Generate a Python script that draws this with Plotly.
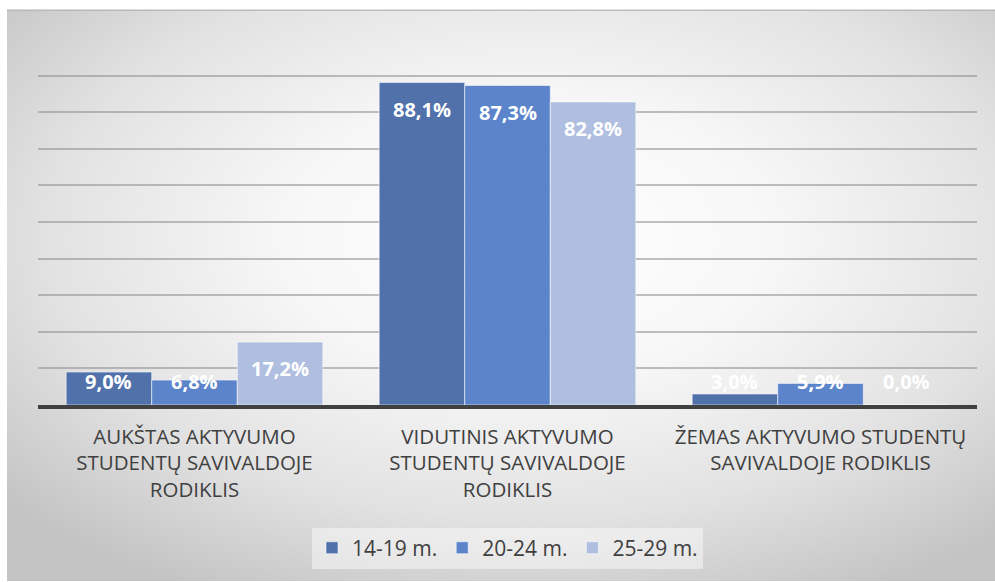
import base64
import plotly.graph_objects as go

# Activity of students in student self-government, by age group
categories = [
    "AUKŠTAS AKTYVUMO<br>STUDENTŲ SAVIVALDOJE<br>RODIKLIS",
    "VIDUTINIS AKTYVUMO<br>STUDENTŲ SAVIVALDOJE<br>RODIKLIS",
    "ŽEMAS AKTYVUMO STUDENTŲ<br>SAVIVALDOJE RODIKLIS",
]
series_names = ["14-19 m.", "20-24 m.", "25-29 m."]
values_14_19 = [9.0, 88.1, 3.0]
values_20_24 = [6.8, 87.3, 5.9]
values_25_29 = [17.2, 82.8, 0.0]
colors = ["#5071aa", "#5b84ca", "#b0bfe0"]

series_values = [values_14_19, values_20_24, values_25_29]
FONT = "Open Sans"
BARGAP = 0.18

fig = go.Figure()
for name, vals, col in zip(series_names, series_values, colors):
    fig.add_trace(go.Bar(
        name=name,
        x=list(range(len(categories))),
        y=vals,
        marker=dict(color=col, line=dict(color="rgba(255,255,255,0.55)", width=1)),
        hoverinfo="skip",
    ))

# Data labels just inside the top of each bar (kept above the baseline for short bars)
bar_w = (1 - BARGAP) / len(series_names)
annotations = []
for si, vals in enumerate(series_values):
    offset = (si - (len(series_names) - 1) / 2) * bar_w
    for ci, v in enumerate(vals):
        annotations.append(dict(
            x=ci + offset, y=max(v - 7.35, 6.4), xref="x", yref="y",
            text=f"{v:.1f}%".replace(".", ","), showarrow=False,
            yanchor="middle", xanchor="center",
            font=dict(family=FONT, size=20, color="white", weight="bold"),
        ))

# Radial grey-to-white backdrop for the chart frame
svg = """<svg xmlns='http://www.w3.org/2000/svg' width='988' height='573' preserveAspectRatio='none'>
<defs><radialGradient id='g' cx='53%' cy='40%' r='70%'>
<stop offset='0' stop-color='#ffffff'/>
<stop offset='0.35' stop-color='#f7f7f7'/>
<stop offset='0.7' stop-color='#e2e2e2'/>
<stop offset='1' stop-color='#c4c4c4'/>
</radialGradient></defs>
<rect x='0' y='0' width='988' height='573' fill='url(#g)'/>
<line x1='0' y1='0.5' x2='988' y2='0.5' stroke='#b0b0b0' stroke-width='1.5'/>
</svg>"""
bg_uri = "data:image/svg+xml;base64," + base64.b64encode(svg.encode()).decode()

W, H = 995, 582
L, R, T, B = 38, 18, 38.5, 176.5
pw, ph = W - L - R, H - T - B

fig.update_layout(
    width=W, height=H,
    margin=dict(l=L, r=R, t=T, b=B, pad=0),
    paper_bgcolor="white",
    plot_bgcolor="rgba(0,0,0,0)",
    barmode="group",
    bargap=BARGAP,
    bargroupgap=0,
    font=dict(family=FONT, color="#404040"),
    showlegend=True,
    legend=dict(
        orientation="h", x=0.5, xanchor="center",
        y=(405.5 - 549) / ph, yanchor="middle",
        font=dict(family=FONT, size=21, color="#404040"),
        bgcolor="rgba(255,255,255,0.45)",
        itemwidth=30, traceorder="normal",
    ),
    images=[dict(
        source=bg_uri, xref="paper", yref="paper",
        x=(7 - L) / pw, y=(405.5 - 9) / ph,
        sizex=988 / pw, sizey=573 / ph,
        xanchor="left", yanchor="top", sizing="stretch", layer="below",
    )],
    annotations=annotations,
    xaxis=dict(
        tickmode="array", tickvals=list(range(len(categories))), ticktext=categories,
        range=[-0.5, len(categories) - 0.5],
        showline=True, linecolor="#404040", linewidth=4,
        ticks="outside", ticklen=10, tickcolor="rgba(0,0,0,0)",
        tickfont=dict(family=FONT, size=20.5, color="#404040"),
        showgrid=False, zeroline=False, fixedrange=True,
    ),
    yaxis=dict(
        range=[0, 100], dtick=10, showticklabels=False,
        showgrid=True, gridcolor="rgba(140,140,140,0.55)", gridwidth=1.5,
        zeroline=False, showline=False, fixedrange=True,
    ),
)

fig.write_html("out.html")
